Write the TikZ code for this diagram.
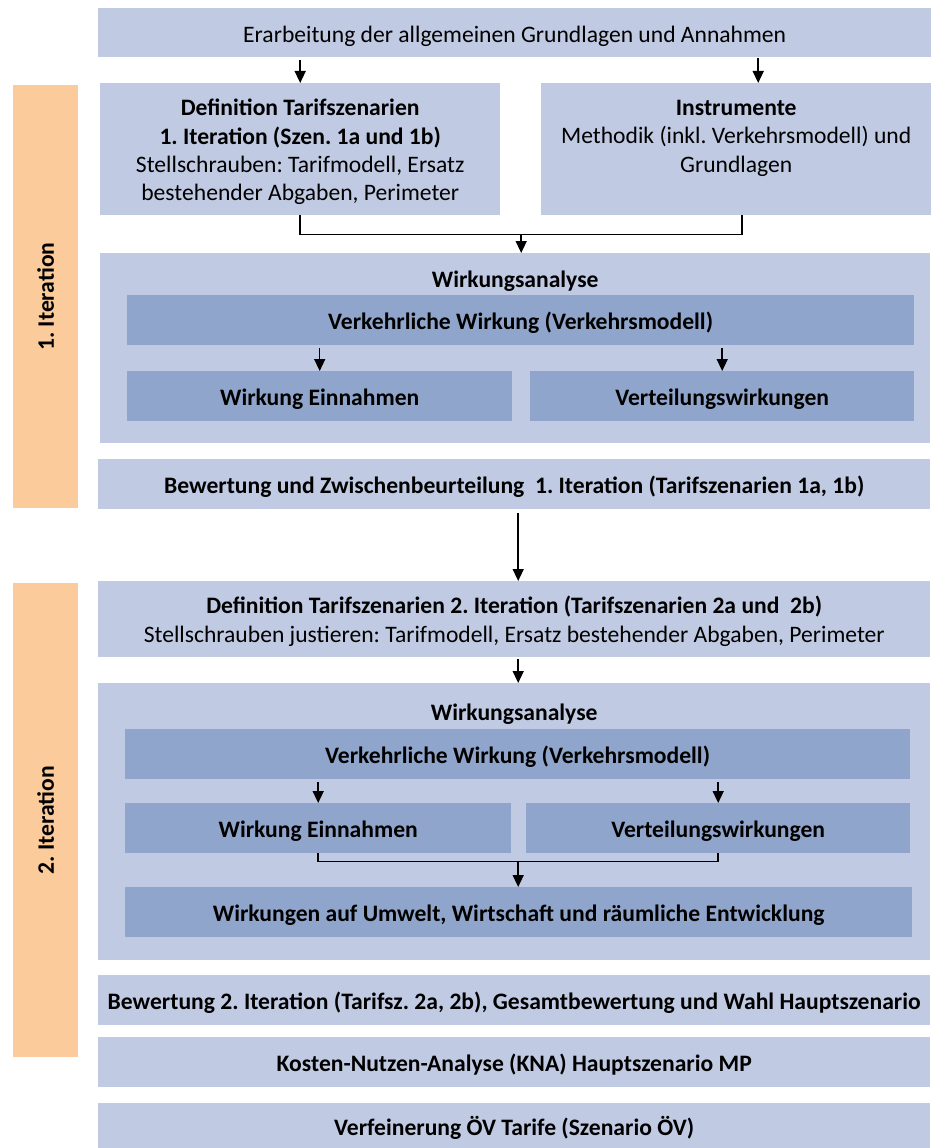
\documentclass[tikz,border=0pt]{standalone}
\usepackage{fontspec}
\setmainfont{Carlito}
\usetikzlibrary{arrows.meta,calc}
\definecolor{lb}{HTML}{C0CAE2}
\definecolor{db}{HTML}{8FA5CB}
\definecolor{org}{HTML}{FBCB9B}
\newcommand{\fs}{\fontsize{23.6}{28.3}\selectfont}
\tikzset{
  base/.style={inner sep=0pt, anchor=north west, align=center, font=\fs},
  lbox/.style={base, fill=lb},
  dbox/.style={base, fill=db, font=\fs\bfseries, oneline},
  obox/.style={base, fill=org},
  bbox/.style={lbox, font=\fs\bfseries, oneline},
  oneline/.style={text height=24pt, text depth=5pt},
  lbl/.style={inner sep=0pt, align=center, font=\fs},
  arr/.style={-{Triangle[width=11pt,length=12pt]}, line width=1.5pt},
  conn/.style={line width=1.5pt}
}
\begin{document}
\frenchspacing
\begin{tikzpicture}[x=1pt,y=-1pt]
\useasboundingbox (0,0) rectangle (931,1148);
% orange bars
\node[obox, minimum width=65pt, minimum height=423pt] (it1) at (13,85) {};
\node[lbl, rotate=90, font=\fs\bfseries] (it1l) at (it1.center) {1. Iteration};
\node[obox, minimum width=65pt, minimum height=474pt] (it2) at (13,583) {};
\node[lbl, rotate=90, font=\fs\bfseries] (it2l) at (it2.center) {2. Iteration};
% top
\node[lbox, oneline, minimum width=833pt, minimum height=49pt] (top) at (98,8) {Erarbeitung der allgemeinen Grundlagen und Annahmen};
\node[lbox, minimum width=400pt, minimum height=132pt] (def1) at (100,83) {};
\node[lbl, anchor=north] (def1t) at ($(def1.north)+(0,16)$) {\textbf{Definition Tarifszenarien}\\ \textbf{1. Iteration (Szen. 1a und 1b)}\\ Stellschrauben: Tarifmodell, Ersatz\\ bestehender Abgaben, Perimeter};
\node[lbox, minimum width=390pt, minimum height=132pt] (instr) at (541,83) {};
\node[lbl, anchor=north] (instrt) at ($(instr.north)+(0,17)$) {\textbf{Instrumente}\\ Methodik (inkl. Verkehrsmodell) und\\ Grundlagen};
\draw[arr] ($(top.south -| def1.north)+(0,3)$) -- (def1.north);
\draw[arr] ($(top.south -| instr.north)+(22,1)$) -- ($(instr.north)+(22,0)$);
% wirkungsanalyse 1
\node[lbox, minimum width=830pt, minimum height=190pt] (wk1) at (100,253) {};
\node[lbl, font=\fs\bfseries] (wk1t) at ($(wk1.north)+(0,28)$) {Wirkungsanalyse};
\node[dbox, minimum width=787pt, minimum height=50pt] (verk1) at (127,295) {Verkehrliche Wirkung (Verkehrsmodell)};
\node[dbox, minimum width=385pt, minimum height=50pt] (we1) at (127,371) {Wirkung Einnahmen};
\node[dbox, minimum width=384pt, minimum height=50pt] (vw1) at (530,371) {Verteilungswirkungen};
\coordinate (j1) at ($(def1.south)!0.5!($(instr.south)+(6,0)$)+(0,19)$);
\draw[conn] (def1.south) -- ++(0,19) -| ($(instr.south)+(6,0)$);
\draw[arr] (j1) -- (wk1.north -| j1);
\draw[arr] ($(verk1.south -| we1.north)+(0,3)$) -- (we1.north);
\draw[arr] ($(verk1.south -| vw1.north)+(0,3)$) -- (vw1.north);
% bewertung 1
\node[bbox, minimum width=832pt, minimum height=50pt] (bew1) at (98,459) {Bewertung und Zwischenbeurteilung \ 1. Iteration (Tarifszenarien 1a, 1b)};
% def 2
\node[lbox, minimum width=832pt, minimum height=76pt] (def2) at (98,581) {};
\node[lbl, anchor=north] (def2t) at ($(def2.north)+(0,15)$) {\textbf{Definition Tarifszenarien 2. Iteration (Tarifszenarien 2a und \ 2b)}\\ Stellschrauben justieren: Tarifmodell, Ersatz bestehender Abgaben, Perimeter};
\draw[arr] ($(bew1.south)+(4,4)$) -- ($(def2.north)+(4,0)$);
% wirkungsanalyse 2
\node[lbox, minimum width=832pt, minimum height=277pt] (wk2) at (98,683) {};
\node[lbl, font=\fs\bfseries] (wk2t) at ($(wk2.north)+(0,31)$) {Wirkungsanalyse};
\draw[arr] ($(def2.south)+(4,2)$) -- ($(wk2.north)+(4,0)$);
\node[dbox, minimum width=785pt, minimum height=50pt] (verk2) at (125,729) {Verkehrliche Wirkung (Verkehrsmodell)};
\node[dbox, minimum width=386pt, minimum height=50pt] (we2) at (125,803) {Wirkung Einnahmen};
\node[dbox, minimum width=384pt, minimum height=50pt] (vw2) at (526,803) {Verteilungswirkungen};
\draw[arr] ($(verk2.south -| we2.north)+(0,3)$) -- (we2.north);
\draw[arr] ($(verk2.south -| vw2.north)+(0,3)$) -- (vw2.north);
\node[dbox, minimum width=787pt, minimum height=50pt] (umw) at (125,887) {Wirkungen auf Umwelt, Wirtschaft und räumliche Entwicklung};
\coordinate (j2) at ($(we2.south)!0.5!(vw2.south)+(0,8)$);
\draw[conn] (we2.south) -- ++(0,8) -| (vw2.south);
\draw[arr] (j2) -- (umw.north -| j2);
% bottom
\node[bbox, minimum width=832pt, minimum height=50pt] (bew2) at (98,975) {Bewertung 2. Iteration (Tarifsz. 2a, 2b), Gesamtbewertung und Wahl Hauptszenario};
\node[bbox, minimum width=832pt, minimum height=50pt] (kna) at (98,1037) {Kosten-Nutzen-Analyse (KNA) Hauptszenario MP};
\node[bbox, minimum width=832pt, minimum height=45pt] (verf) at (98,1103) {Verfeinerung ÖV Tarife (Szenario ÖV)};
\end{tikzpicture}
\end{document}
